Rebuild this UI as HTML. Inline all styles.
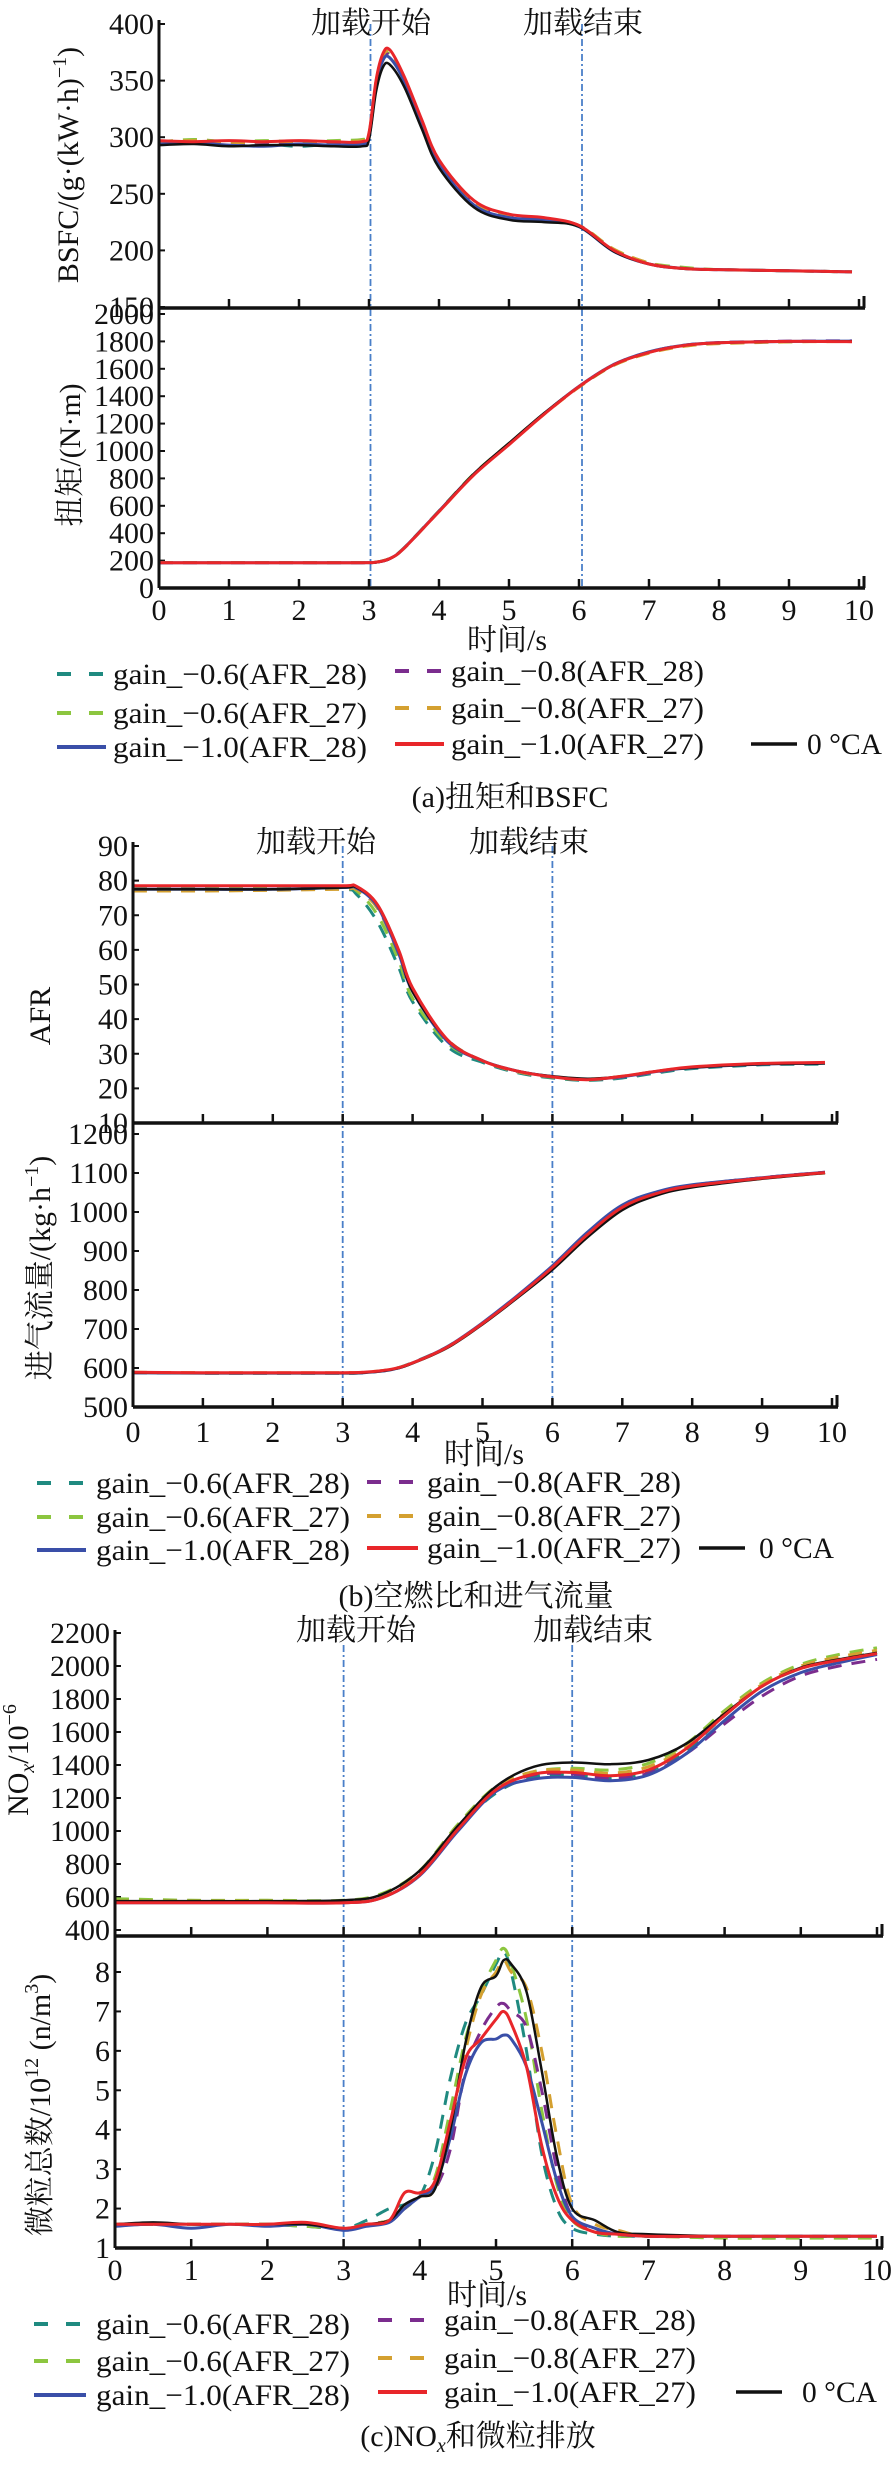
<!DOCTYPE html>
<html><head><meta charset="utf-8">
<style>
html,body{margin:0;padding:0;background:#fff;}
svg{display:block;}
text{font-family:"Liberation Serif","Noto Serif CJK SC","Noto Sans CJK SC",serif;fill:#111;}
</style></head>
<body>
<svg id="chart" width="894" height="2470" viewBox="0 0 894 2470" xmlns="http://www.w3.org/2000/svg"></svg>
<script>
// ---------- data ----------
const seriesNames = ["gain_−0.6(AFR_28)","gain_−0.6(AFR_27)","gain_−0.8(AFR_28)","gain_−0.8(AFR_27)","gain_−1.0(AFR_28)","0 °CA","gain_−1.0(AFR_27)"];
// BSFC
const tBsfc = [0,0.5,1,1.5,2,2.5,2.9,3.0,3.1,3.2,3.3,3.5,3.75,4,4.5,5,5.5,6,6.5,7,7.5,8,9,9.9];
const bsfcTeal  = [295,296,293,294,292,294,293,301,346,370,371,351,312,275,239,228,226,221,200,188,184,183,182,181];
const bsfcGreen = [296,298,296,297,296,297,298,303,348,371,373,352,314,278,241,229,226,222,201,189,185,183,182,181];
const bsfcPurple= [295,296,294,295,295,294,295,302,347,370,372,351,313,277,242,230,227,222,200,188,184,183,182,181];
const bsfcGold  = [296,297,295,296,296,296,297,303,349,372,374,353,315,279,243,231,228,222,201,189,184,183,182,181];
const bsfcBlue  = [294,295,293,292,294,293,294,300,345,368,370,350,312,276,240,229,227,221,199,188,184,183,182,181];
const bsfcBlack = [293,294,292,293,293,292,292,298,340,362,364,345,308,273,238,227,225,221,199,188,184,183,182,181];
const bsfcRed   = [297,296,297,296,297,296,296,304,350,374,377,354,316,280,244,232,229,222,200,188,184,183,182,181];
// Torque
const tTorque = [0,1,2,2.9,3.1,3.3,3.5,4,4.5,5,5.5,6,6.5,7,7.5,8,9,9.9];
const torqueTeal  = [185,185,185,185,188,216,292,562,832,1052,1272,1468,1628,1718,1768,1788,1798,1800];
const torqueGreen = [186,186,186,186,189,217,292,563,835,1055,1272,1468,1626,1716,1766,1786,1798,1800];
const torquePurple= [185,185,185,185,188,215,290,560,830,1050,1270,1470,1632,1722,1772,1792,1802,1804];
const torqueGold  = [186,186,186,186,189,216,290,558,828,1048,1268,1466,1626,1714,1764,1784,1796,1800];
const torqueBlue  = [185,185,185,185,188,215,291,561,831,1051,1272,1472,1632,1724,1772,1790,1800,1802];
const torqueBlack = [184,184,184,184,187,214,290,560,835,1058,1275,1470,1630,1720,1770,1790,1800,1800];
const torqueRed   = [185,185,185,185,188,215,290,558,826,1046,1268,1470,1630,1720,1770,1790,1800,1798];
// AFR
const tAfr = [0,1,2,3,3.2,3.5,3.8,4,4.5,5,5.5,6,6.5,7,7.5,8,9,9.9];
const afrTeal  = [77.5,77.5,77.5,77.5,76,68,55,45,32,27.5,24.5,23,22.3,23,24.5,25.7,26.8,27];
const afrGreen = [78,78,78,78,77,70,57,46,33,28,24.8,23.2,22.5,23.3,24.8,26,27,27.3];
const afrPurple= [77.5,77.5,77.5,77.8,77.6,72,59,48,34,28,24.8,23.3,22.6,23.3,24.8,26,27,27.2];
const afrGold  = [77,77,77.2,77.5,77.4,72,59,48,34,28,24.8,23.4,22.7,23.5,25,26.1,27.1,27.4];
const afrBlue  = [77.5,77.5,77.5,78,77.8,72.5,59,48,33.5,28,25,23.4,22.6,23.4,24.9,26,27,27.3];
const afrBlack = [77.5,77.5,77.5,78,78,73,60,48,34,28,25,23.5,22.8,23.5,25,26,27,27.2];
const afrRed   = [78.5,78.5,78.5,78.5,78.3,73,60,49,34,28,25,23.3,22.5,23.5,25,26.2,27.2,27.5];
// Air flow
const tFlow = [0,1,2,3,3.3,3.7,4,4.5,5,5.5,6,6.5,7,7.5,8,9,9.9];
const flowTeal  = [588,587,587,587,588,597,614,655,715,784,858,944,1014,1049,1068,1088,1101];
const flowGreen = [588,587,587,587,588,596,613,654,714,783,857,942,1012,1048,1067,1087,1101];
const flowPurple= [588,587,587,587,588,596,613,654,714,783,858,944,1015,1050,1069,1088,1102];
const flowGold  = [589,588,588,588,589,597,613,653,713,782,856,940,1010,1046,1066,1086,1100];
const flowBlue  = [588,587,587,587,588,596,613,655,716,786,862,948,1018,1052,1070,1088,1102];
const flowBlack = [588,587,587,587,588,596,612,652,712,780,852,935,1005,1043,1063,1085,1100];
const flowRed   = [589,588,588,588,589,597,613,654,714,783,858,942,1012,1048,1067,1087,1101];
// NOx
const tNox = [0,1,2,3,3.5,4,4.5,5,5.5,6,6.5,7,7.5,8,8.5,9,9.5,10];
const noxTeal  = [575,575,575,575,610,750,1020,1230,1330,1340,1320,1360,1490,1700,1880,1985,2040,2080];
const noxGreen = [590,580,580,580,620,760,1040,1270,1360,1380,1370,1410,1530,1730,1900,2010,2070,2110];
const noxPurple= [570,570,570,570,600,740,1010,1250,1340,1345,1320,1350,1470,1650,1820,1940,2000,2040];
const noxGold  = [575,575,575,575,610,755,1030,1265,1360,1370,1350,1390,1510,1715,1890,2000,2055,2095];
const noxBlue  = [565,565,565,565,595,730,1000,1240,1315,1325,1305,1340,1470,1670,1850,1960,2020,2070];
const noxBlack = [575,575,575,580,615,760,1030,1270,1390,1415,1405,1430,1530,1710,1880,1990,2040,2080];
const noxRed   = [565,565,565,565,595,735,1010,1250,1345,1355,1335,1370,1500,1700,1880,1985,2035,2075];
// Particles
const tPn = [0,0.5,1,1.5,2,2.5,3,3.3,3.6,3.8,4,4.2,4.4,4.6,4.8,5,5.1,5.2,5.4,5.6,5.8,6,6.3,6.6,7,8,9,10];
const pnTeal  = [1.6,1.6,1.6,1.6,1.6,1.55,1.5,1.7,2.0,2.1,2.3,3.4,5.3,6.7,7.4,8.2,8.5,8.0,6.0,3.4,2.0,1.5,1.35,1.3,1.3,1.3,1.3,1.3];
const pnGreen = [1.6,1.6,1.6,1.6,1.6,1.55,1.5,1.6,1.7,2.0,2.3,2.8,4.5,6.3,7.5,8.3,8.6,8.2,6.8,4.5,2.6,1.7,1.4,1.3,1.3,1.25,1.25,1.25];
const pnPurple= [1.6,1.6,1.6,1.6,1.6,1.6,1.5,1.6,1.7,2.0,2.3,2.5,3.5,5.5,6.5,7.1,7.2,7.0,6.6,5.0,3.0,1.8,1.45,1.35,1.3,1.3,1.3,1.3];
const pnGold  = [1.6,1.6,1.6,1.6,1.6,1.6,1.5,1.6,1.7,2.0,2.3,2.5,4.0,6.0,7.4,8.0,8.3,8.0,7.6,6.0,3.8,2.1,1.6,1.45,1.3,1.3,1.3,1.3];
const pnBlue  = [1.55,1.6,1.5,1.6,1.55,1.6,1.45,1.55,1.65,2.0,2.3,2.6,3.8,5.4,6.2,6.3,6.4,6.3,5.6,4.2,2.7,1.8,1.5,1.35,1.3,1.3,1.3,1.3];
const pnBlack = [1.6,1.65,1.6,1.6,1.6,1.6,1.5,1.6,1.7,2.1,2.3,2.5,4.0,6.2,7.6,7.9,8.3,8.2,7.5,5.5,3.3,2.0,1.7,1.4,1.35,1.3,1.3,1.3];
const pnRed   = [1.6,1.6,1.6,1.6,1.6,1.65,1.5,1.6,1.7,2.4,2.4,2.7,4.2,5.8,6.3,6.8,7.0,6.7,5.6,3.6,2.3,1.7,1.4,1.35,1.3,1.3,1.3,1.3];
// ticks
const xTicks = [0,1,2,3,4,5,6,7,8,9,10];
const bsfcTicks = [150,200,250,300,350,400];
const torqueTicks = [0,200,400,600,800,1000,1200,1400,1600,1800,2000];
const afrTicks = [10,20,30,40,50,60,70,80,90];
const flowTicks = [500,600,700,800,900,1000,1100,1200];
const noxTicks = [400,600,800,1000,1200,1400,1600,1800,2000,2200];
const pnTicks = [1,2,3,4,5,6,7,8];
const eventTimes = [3,6];

// ---------- drawing ----------
const NS = "http://www.w3.org/2000/svg";
const FONT = '"Liberation Serif","Noto Serif CJK SC",serif';
const svg = document.getElementById("chart");
const styles = [
  {c:"#1f8a80",d:"14 10",w:3},{c:"#8cc63f",d:"14 10",w:3},{c:"#7b2d8e",d:"14 10",w:3},
  {c:"#d4a030",d:"14 10",w:3},{c:"#3a4fa8",d:"",w:3},{c:"#111",d:"",w:2.5},{c:"#e8262a",d:"",w:3}
];
function el(tag, attrs, parent){
  const e = document.createElementNS(NS, tag);
  for (const k in attrs) e.setAttribute(k, attrs[k]);
  (parent||svg).appendChild(e); return e;
}
function txt(s, x, y, size, anchor, parent){
  const t = el("text", {x:x, y:y, "font-size":size, "text-anchor":anchor||"middle", "font-family":FONT}, parent);
  t.textContent = s; return t;
}
function smooth(pts){
  let d = "M"+pts[0][0].toFixed(1)+","+pts[0][1].toFixed(1);
  for (let i=0;i<pts.length-1;i++){
    const p0=pts[Math.max(0,i-1)], p1=pts[i], p2=pts[i+1], p3=pts[Math.min(pts.length-1,i+2)];
    const c1=[p1[0]+(p2[0]-p0[0])/6, p1[1]+(p2[1]-p0[1])/6];
    const c2=[p2[0]-(p3[0]-p1[0])/6, p2[1]-(p3[1]-p1[1])/6];
    d += " C"+c1[0].toFixed(1)+","+c1[1].toFixed(1)+" "+c2[0].toFixed(1)+","+c2[1].toFixed(1)+" "+p2[0].toFixed(1)+","+p2[1].toFixed(1);
  }
  return d;
}
function subplot(o){
  const g = el("g", {});
  
  
  const X = v => o.x0 + (v-0)/(10-0)*(o.x1-o.x0);
  const Y = v => o.py0 + (v-o.v0)/(o.v1-o.v0)*(o.py1-o.py0);
  o.ticks.forEach(v=>{
    const t = txt(String(v), o.x0-5, Y(v)+10, 30, "end", g);
    
    
    el("line",{x1:o.x0,x2:o.x0+6,y1:Y(v),y2:Y(v),stroke:"#111","stroke-width":2},g);
  });
  o.series.forEach((arr,i)=>{
    const s = styles[i];
    const p = el("path",{d:smooth(arr.map((v,j)=>[X(o.t[j]),Y(v)])),fill:"none",stroke:s.c,"stroke-width":s.w,"stroke-dasharray":s.d,"stroke-linejoin":"round"},g);
    
    
  });
  el("line",{x1:o.x0,x2:o.x0,y1:o.top,y2:o.bot,stroke:"#111","stroke-width":3},g);
  el("line",{x1:o.x0,x2:o.x1+6,y1:o.bot,y2:o.bot,stroke:"#111","stroke-width":3.5},g);
  xTicks.forEach(v=>el("line",{x1:X(v),x2:X(v),y1:o.bot,y2:o.bot-9,stroke:"#111","stroke-width":2.5},g));
  el("line",{x1:o.x1+5,x2:o.x1+5,y1:o.bot,y2:o.bot-12,stroke:"#111","stroke-width":3},g);
  return {X,Y};
}
function eventLines(x0,x1,top,bot,labels){
  eventTimes.forEach((v,i)=>{
    const x = x0 + v/10*(x1-x0);
    const l = el("line",{x1:x,x2:x,y1:top,y2:bot,stroke:"#4a7fc8","stroke-width":1.8,"stroke-dasharray":"7 3 2 3"});
    
    
    const t = txt(i===0?"加载开始":"加载结束", labels[i][0], labels[i][1], 30);
    
    
  });
}
function xLabels(x0,x1,y,ty,tx){
  xTicks.forEach(v=>{
    const t = txt(String(v), x0+v/10*(x1-x0), y, 30);
    
    
  });
  const t = txt("时间/s", tx, ty, 30);
  
  
}
function yTitle(s, x, y){
  const t = txt("", x, y, 30);
  t.setAttribute("transform","rotate(-90 "+x+" "+y+")");
  t.innerHTML = s;
  
  
}
function legend(cols, rows){
  const layout = [[0,0,0],[1,0,1],[4,0,2],[2,1,0],[3,1,1],[6,1,2],[5,2,2]];
  layout.forEach(([si,c,r])=>{
    const s = styles[si], col = cols[c], y = rows[c][r];
    const g = el("g",{});
    
    
    el("line",{x1:col[0],x2:col[1],y1:y,y2:y,stroke:s.c,"stroke-width":s.w+1,"stroke-dasharray":s.d?"14 18":""},g);
    const t = el("text",{x:col[2],y:y+10,"font-size":30,"font-family":FONT,"textLength":col[3],"lengthAdjust":"spacingAndGlyphs"},g);
    t.textContent = seriesNames[si];
  });
}
function caption(s,x,y){
  const t = txt("",x,y,30); t.innerHTML = s;
  
  
}

// Panel (a)
eventLines(159,864,24,588,[[371,33],[583,33]]);
subplot({name:"bsfc-plot",x0:159,x1:859,t:tBsfc,v0:150,v1:400,py0:307,py1:24,top:20,bot:308,ticks:bsfcTicks,
  series:[bsfcTeal,bsfcGreen,bsfcPurple,bsfcGold,bsfcBlue,bsfcBlack,bsfcRed]});
subplot({name:"torque-plot",x0:159,x1:859,t:tTorque,v0:0,v1:2000,py0:588,py1:314,top:308,bot:588,ticks:torqueTicks,
  series:[torqueTeal,torqueGreen,torquePurple,torqueGold,torqueBlue,torqueBlack,torqueRed]});
xLabels(159,859,620,650,507);
yTitle('BSFC/(g·(kW·h)<tspan dy="-12" font-size="20">−1</tspan><tspan dy="12">)</tspan>',78,165);
yTitle('扭矩/(N·m)',80,455);
legend([[57,106,113,254],[395,444,451,253],[751,797,807,75]],[[674,713,747],[671,708,744],[0,0,744]]);
caption('(a)扭矩和BSFC',510,807);

// Panel (b)
eventLines(133,832,846,1407,[[316,852],[529,852]]);
subplot({name:"afr-plot",x0:133,x1:832,t:tAfr,v0:10,v1:90,py0:1123,py1:846,top:842,bot:1123,ticks:afrTicks,
  series:[afrTeal,afrGreen,afrPurple,afrGold,afrBlue,afrBlack,afrRed]});
subplot({name:"air-flow-plot",x0:133,x1:832,t:tFlow,v0:500,v1:1200,py0:1407,py1:1134,top:1123,bot:1407,ticks:flowTicks,
  series:[flowTeal,flowGreen,flowPurple,flowGold,flowBlue,flowBlack,flowRed]});
xLabels(133,832,1442,1464,484);
yTitle('AFR',50,1016);
yTitle('进气流量/(kg·h<tspan dy="-12" font-size="20">−1</tspan><tspan dy="12">)</tspan>',50,1268);
legend([[37,86,96,254],[367,418,427,254],[699,745,759,75]],[[1483,1517,1550],[1482,1516,1548],[0,0,1548]]);
caption('(b)空燃比和进气流量',476,1606);

// Panel (c)
eventLines(115,877,1645,2248,[[356,1640],[593,1640]]);
subplot({name:"nox-plot",x0:115,x1:877,t:tNox,v0:400,v1:2200,py0:1930,py1:1633,top:1630,bot:1936,ticks:noxTicks,
  series:[noxTeal,noxGreen,noxPurple,noxGold,noxBlue,noxBlack,noxRed]});
subplot({name:"particle-plot",x0:115,x1:877,t:tPn,v0:1,v1:8,py0:2248,py1:1972,top:1936,bot:2248,ticks:pnTicks,
  series:[pnTeal,pnGreen,pnPurple,pnGold,pnBlue,pnBlack,pnRed]});
xLabels(115,877,2280,2305,487);
yTitle('NO<tspan font-style="italic" font-size="20" dy="6">x</tspan><tspan dy="-6">/10</tspan><tspan dy="-12" font-size="20">−6</tspan>',28,1760);
yTitle('微粒总数/10<tspan dy="-12" font-size="20">12</tspan><tspan dy="12"> (n/m</tspan><tspan dy="-12" font-size="20">3</tspan><tspan dy="12">)</tspan>',50,2105);
legend([[34,86,96,254],[378,427,444,252],[736,782,802,75]],[[2324,2361,2395],[2320,2358,2392],[0,0,2392]]);
caption('(c)NO<tspan font-style="italic" font-size="20" dy="6">x</tspan><tspan dy="-6">和微粒排放</tspan>',478,2446);
</script>
</body></html>
